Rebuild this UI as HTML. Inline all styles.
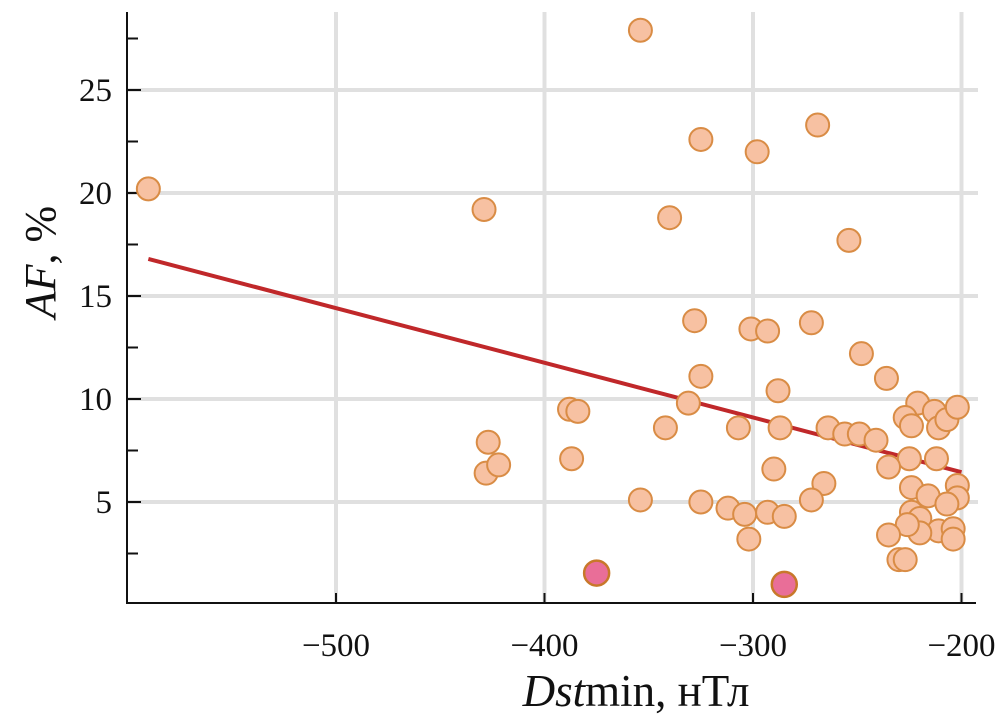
<!DOCTYPE html>
<html><head><meta charset="utf-8"><style>
body{margin:0;background:#fff}
svg text{font-family:"Liberation Serif",serif;fill:#111}
</style></head><body>
<svg width="1008" height="717" viewBox="0 0 1008 717" xmlns="http://www.w3.org/2000/svg">
<g id="grid"></g>
<g id="axes"></g>
<g id="fit"></g>
<g id="pts"></g>
<text x="636" y="706" font-size="45" text-anchor="middle"><tspan font-style="italic">Dst</tspan>min, нТл</text>
<text transform="translate(55,262) rotate(-90)" font-size="44" text-anchor="middle"><tspan font-style="italic">AF</tspan>, %</text>
</svg>
<script>
const xs=[-590,-354,-269,-325,-298,-429,-340,-254,-328,-301,-293,-272,-248,-236,-325,-288,-331,-388,-384,-342,-307,-287,-264,-256,-249,-241,-221,-227,-224,-213,-211,-207,-202,-225,-212,-235,-427,-387,-428,-422,-290,-266,-272,-354,-325,-312,-304,-293,-285,-302,-224,-216,-202,-202,-224,-220,-207,-211,-220,-226,-204,-204,-235,-230,-227];
const ys=[20.2,27.9,23.3,22.6,22.0,19.2,18.8,17.7,13.8,13.4,13.3,13.7,12.2,11.0,11.1,10.4,9.8,9.5,9.4,8.6,8.6,8.6,8.6,8.3,8.3,8.0,9.8,9.1,8.7,9.4,8.6,9.0,9.6,7.1,7.1,6.7,7.9,7.1,6.4,6.8,6.6,5.9,5.1,5.1,5.0,4.7,4.4,4.5,4.3,3.2,5.7,5.3,5.8,5.2,4.5,4.2,4.9,3.6,3.5,3.9,3.7,3.2,3.4,2.2,2.2];
const pinkX=[-375,-285];
const pinkY=[1.55,1.0];
const fitX=[-590,-200];
const fitY=[16.8,6.45];
const xTicks=[-500,-400,-300,-200];
const yTicks=[5,10,15,20,25];
const yMinor=[2.5,7.5,12.5,17.5,22.5,27.5];
const X=v=>336+(v+500)*2.085;
const Y=v=>605-v*20.6;
const NS="http://www.w3.org/2000/svg";
function mk(t,a,p){const e=document.createElementNS(NS,t);for(const k in a)e.setAttribute(k,a[k]);p.appendChild(e);return e;}
const grid=document.getElementById('grid'),axes=document.getElementById('axes'),fit=document.getElementById('fit'),pts=document.getElementById('pts');
xTicks.forEach(v=>{const l=mk('line',{x1:X(v),x2:X(v),y1:12,y2:603,stroke:'#e0e0e0','stroke-width':4},grid);


const t=mk('line',{x1:X(v),x2:X(v),y1:603,y2:593,stroke:'#111','stroke-width':2},axes);


const tx=mk('text',{x:X(v),y:656,'font-size':33,'text-anchor':'middle'},axes);tx.textContent='\u2212'+Math.abs(v);

});
yTicks.forEach(v=>{const l=mk('line',{x1:127,x2:978,y1:Y(v),y2:Y(v),stroke:'#e0e0e0','stroke-width':4},grid);


const t=mk('line',{x1:127,x2:141,y1:Y(v),y2:Y(v),stroke:'#111','stroke-width':2},axes);


const tx=mk('text',{x:112,y:Y(v)+11,'font-size':33,'text-anchor':'end'},axes);tx.textContent=v;

});
yMinor.forEach(v=>{const t=mk('line',{x1:127,x2:138,y1:Y(v),y2:Y(v),stroke:'#111','stroke-width':2},axes);

});
const ya=mk('line',{x1:127,x2:127,y1:12,y2:604,stroke:'#111','stroke-width':2},axes);


const xa=mk('line',{x1:126,x2:976,y1:603,y2:603,stroke:'#111','stroke-width':2},axes);


const fl=mk('line',{x1:X(fitX[0]),y1:Y(fitY[0]),x2:X(fitX[1]),y2:Y(fitY[1]),stroke:'#c0282a','stroke-width':4},fit);


xs.forEach((v,i)=>{const c=mk('circle',{cx:X(v),cy:Y(ys[i]),r:11.5,fill:'#f7c1a2',stroke:'#d98c45','stroke-width':2},pts);

});
pinkX.forEach((v,i)=>{const c=mk('circle',{cx:X(v),cy:Y(pinkY[i]),r:12.5,fill:'#e96e98',stroke:'#c8782a','stroke-width':2.5},pts);

});
</script>
</body></html>
